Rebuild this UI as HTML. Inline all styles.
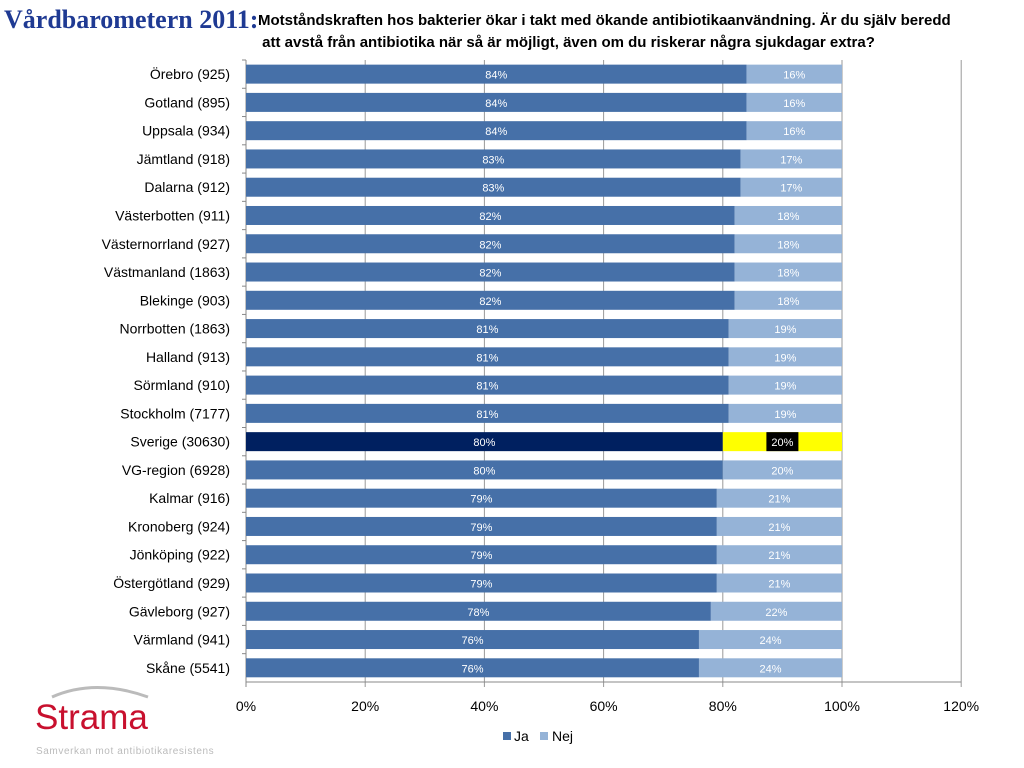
<!DOCTYPE html>
<html><head><meta charset="utf-8"><style>
body{margin:0;width:1024px;height:768px;background:#fff;font-family:"Liberation Sans",sans-serif;overflow:hidden;position:relative}
#title{position:absolute;left:4px;top:5px;font-family:"Liberation Serif",serif;font-weight:bold;color:#1f3a93;font-size:26px}
#q{position:absolute;left:258px;top:10px;font-size:15px;font-weight:bold;line-height:22px;color:#000}
</style></head><body>
<div id="title">Vårdbarometern 2011:</div>
<div id="q">Motståndskraften hos bakterier ökar i takt med ökande antibiotikaanvändning. Är du själv beredd<br>&nbsp;att avstå från antibiotika när så är möjligt, även om du riskerar några sjukdagar extra?</div>
<svg id="chart" width="1024" height="768" style="position:absolute;left:0;top:0">
<g>
<path d="M52 697 Q95 678 148 697" stroke="#bbb" stroke-width="3" fill="none"/>
<text x="35" y="729" font-size="35" fill="#c8102e" font-family="Liberation Sans,sans-serif">Strama</text>
<text x="36" y="754" font-size="10" fill="#bbb" letter-spacing="0.6">Samverkan mot antibiotikaresistens</text>
</g>
</svg>
<script>
const categories=["Örebro (925)","Gotland (895)","Uppsala (934)","Jämtland (918)","Dalarna (912)","Västerbotten (911)","Västernorrland (927)","Västmanland (1863)","Blekinge (903)","Norrbotten (1863)","Halland (913)","Sörmland (910)","Stockholm (7177)","Sverige (30630)","VG-region (6928)","Kalmar (916)","Kronoberg (924)","Jönköping (922)","Östergötland (929)","Gävleborg (927)","Värmland (941)","Skåne (5541)"];
const ja=[84,84,84,83,83,82,82,82,82,81,81,81,81,80,80,79,79,79,79,78,76,76];
const nej=[16,16,16,17,17,18,18,18,18,19,19,19,19,20,20,21,21,21,21,22,24,24];
const ticks=[0,20,40,60,80,100,120];
const svg=document.getElementById('chart');const NS='http://www.w3.org/2000/svg';
const x0=246,pxPer=5.96,top0=60,band=28.27,bh=19;
const X=v=>x0+v*pxPer;const Y=i=>top0+i*band;
function mk(t,a,p){const e=document.createElementNS(NS,t);for(const k in a)e.setAttribute(k,a[k]);(p||svg).appendChild(e);return e;}
const plotBottom=Y(categories.length);
ticks.forEach(t=>{
 const g=mk('line',{x1:X(t),x2:X(t),y1:top0,y2:plotBottom+5,stroke:t===0?'#888':'#999','stroke-width':1});
 
 
 const l=mk('text',{x:X(t),y:plotBottom+29,'text-anchor':'middle','font-size':14,fill:'#000'});l.textContent=t+'%';
 
 
});
mk('line',{x1:x0,x2:X(120),y1:plotBottom,y2:plotBottom,stroke:'#888'});
categories.forEach((c,i)=>{
 const y=Y(i)+(band-bh)/2, sv=c.startsWith('Sverige');
 const a=mk('rect',{x:X(0),y:y,width:ja[i]*pxPer,height:bh,fill:sv?'#002060':'#4670a8'});
 
 
 const b=mk('rect',{x:X(ja[i]),y:y,width:nej[i]*pxPer,height:bh,fill:sv?'#ffff00':'#95b3d7'});
 
 
 const t1=mk('text',{x:X(ja[i]/2),y:y+14,'text-anchor':'middle','font-size':11,fill:'#fff'});t1.textContent=ja[i]+'%';
 
 
 const cx=X(ja[i]+nej[i]/2);
 if(sv){const bg=mk('rect',{x:cx-16,y:y,width:32,height:bh,fill:'#000'});}
 const t2=mk('text',{x:cx,y:y+14,'text-anchor':'middle','font-size':11,fill:'#fff'});t2.textContent=nej[i]+'%';
 
 
 const lab=mk('text',{x:230,y:Y(i)+band/2+5,'text-anchor':'end','font-size':14,fill:'#000'});lab.textContent=c;
 
 
 mk('line',{x1:x0-4,x2:x0,y1:Y(i),y2:Y(i),stroke:'#888'});
});
const lg=mk('g',{});


mk('rect',{x:503,y:732,width:8,height:8,fill:'#4670a8'},lg);
const lt1=mk('text',{x:514,y:741,'font-size':14},lg);lt1.textContent='Ja';
mk('rect',{x:540,y:732,width:8,height:8,fill:'#95b3d7'},lg);
const lt2=mk('text',{x:552,y:741,'font-size':14},lg);lt2.textContent='Nej';
</script>
</body></html>
